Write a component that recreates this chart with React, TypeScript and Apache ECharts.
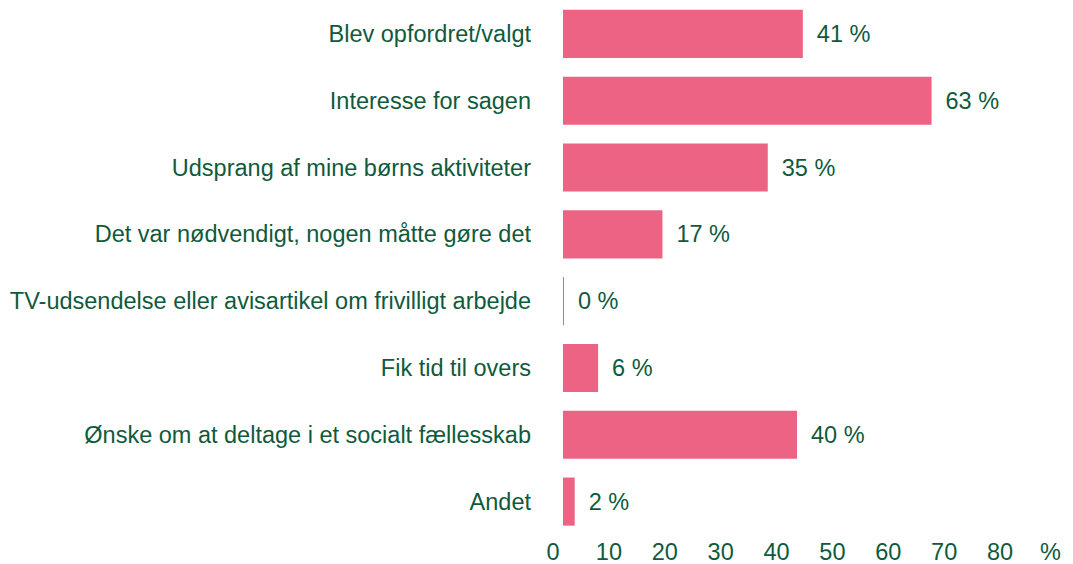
import React, { useEffect, useRef } from "react";
import * as echarts from "echarts";

const categories = [
  "Blev opfordret/valgt",
  "Interesse for sagen",
  "Udsprang af mine børns aktiviteter",
  "Det var nødvendigt, nogen måtte gøre det",
  "TV-udsendelse eller avisartikel om frivilligt arbejde",
  "Fik tid til overs",
  "Ønske om at deltage i et socialt fællesskab",
  "Andet",
];
const values = [41, 63, 35, 17, 0, 6, 40, 2];
const tickValues = [0, 10, 20, 30, 40, 50, 60, 70, 80];

const GREEN = "#0f5a3c";
const PINK = "#ec6384";
const FONT = "Liberation Sans, Arial, sans-serif";
const FS = 23.5;

export default function App() {
  const ref = useRef<HTMLDivElement>(null);
  useEffect(() => {
    if (!ref.current) return;
    const chart = echarts.init(ref.current, undefined, { renderer: "svg" });
    chart.setOption({
      animation: false,
      grid: { left: 553, right: 73, top: 0.5, bottom: 27.5, containLabel: false },
      yAxis: {
        type: "category",
        data: categories,
        inverse: true,
        axisLine: { show: false },
        axisTick: { show: false },
        axisLabel: { color: GREEN, fontSize: FS, fontFamily: FONT, margin: 22 },
      },
      xAxis: [
        {
          type: "value",
          min: -1.71,
          max: 74.7,
          show: false,
          splitLine: { show: false },
        },
        {
          type: "value",
          min: tickValues[0],
          max: tickValues[tickValues.length - 1],
          interval: 10,
          position: "bottom",
          axisLine: { show: false },
          axisTick: { show: false },
          splitLine: { show: false },
          axisLabel: { color: GREEN, fontSize: FS, fontFamily: FONT, margin: 5 },
          name: "%",
          nameLocation: "end",
          nameGap: 40,
          nameTextStyle: {
            color: GREEN,
            fontSize: FS,
            fontFamily: FONT,
            align: "left",
            verticalAlign: "top",
            padding: [5, 0, 0, 0],
          },
        },
      ],
      series: [
        {
          type: "bar",
          xAxisIndex: 0,
          data: values,
          barCategoryGap: "28%",
          barMinHeight: 1,
          itemStyle: { color: PINK },
          label: {
            show: true,
            position: "right",
            distance: 14,
            color: GREEN,
            fontSize: FS,
            fontFamily: FONT,
            formatter: (p: any) => `${p.value} %`,
          },
        },
      ],
    });
    return () => chart.dispose();
  }, []);
  return (
    <div
      ref={ref}
      style={{ position: "fixed", left: 0, top: 0, width: 1073, height: 564, background: "#fff" }}
    />
  );
}
